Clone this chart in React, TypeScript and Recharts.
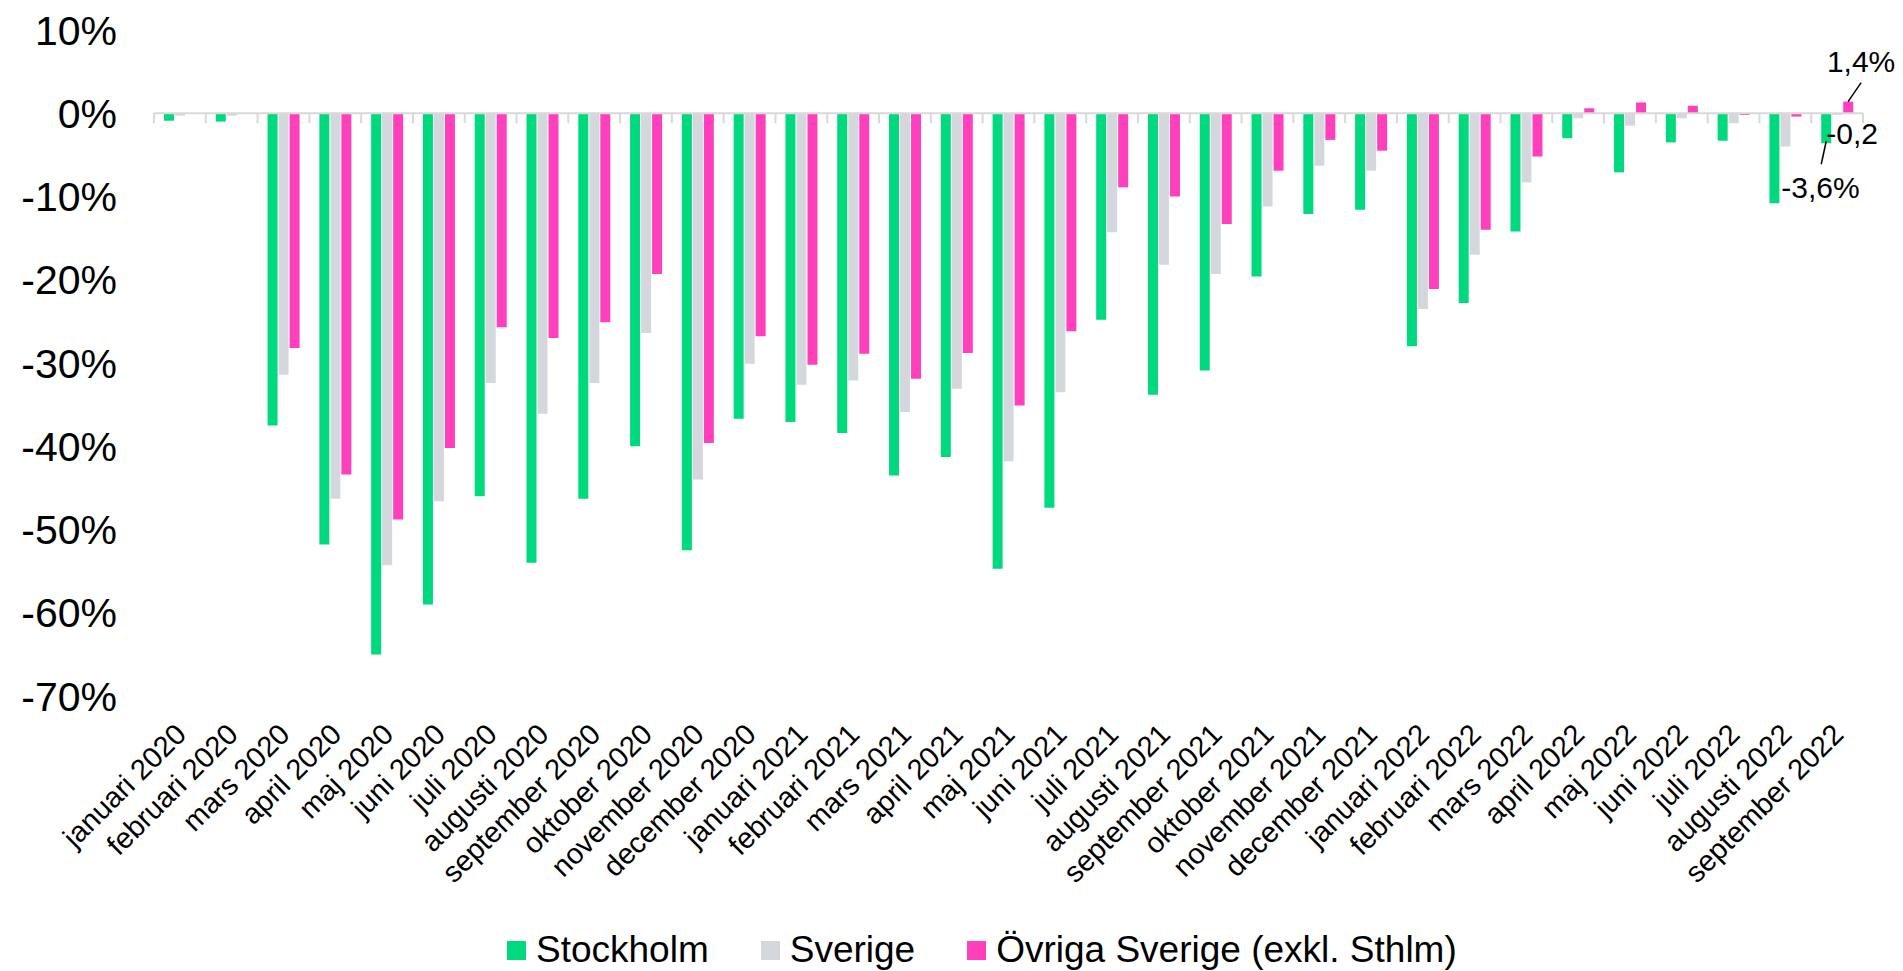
import React from "react";
import {
  BarChart,
  Bar,
  XAxis,
  YAxis,
  ReferenceLine,
  ReferenceDot,
  Legend,
} from "recharts";

const months = [
  "januari 2020", "februari 2020", "mars 2020", "april 2020", "maj 2020", "juni 2020",
  "juli 2020", "augusti 2020", "september 2020", "oktober 2020", "november 2020", "december 2020",
  "januari 2021", "februari 2021", "mars 2021", "april 2021", "maj 2021", "juni 2021",
  "juli 2021", "augusti 2021", "september 2021", "oktober 2021", "november 2021", "december 2021",
  "januari 2022", "februari 2022", "mars 2022", "april 2022", "maj 2022", "juni 2022",
  "juli 2022", "augusti 2022", "september 2022",
];

const stockholm = [
  -0.9, -1.0, -37.5, -51.8, -65.0, -59.0, -46.0, -54.0, -46.3, -40.0, -52.5, -36.7,
  -37.1, -38.4, -43.5, -41.3, -54.7, -47.4, -24.8, -33.8, -30.9, -19.6, -12.1, -11.6,
  -28.0, -22.8, -14.2, -3.0, -7.1, -3.5, -3.3, -10.8, -3.6,
];

const sverige = [
  -0.3, -0.3, -31.4, -46.3, -54.3, -46.6, -32.4, -36.1, -32.4, -26.4, -44.0, -30.1,
  -32.6, -32.1, -35.9, -33.1, -41.8, -33.5, -14.3, -18.2, -19.3, -11.2, -6.3, -6.9,
  -23.5, -17.0, -8.3, -0.6, -1.5, -0.6, -1.2, -4.0, -0.2,
];

const ovriga = [
  0, 0, -28.2, -43.4, -48.8, -40.2, -25.7, -27.0, -25.1, -19.3, -39.6, -26.8,
  -30.2, -28.9, -31.9, -28.8, -35.1, -26.2, -8.9, -10.0, -13.3, -6.9, -3.2, -4.5,
  -21.1, -14.0, -5.2, 0.6, 1.3, 0.9, -0.2, -0.4, 1.4,
];

const seriesNames = ["Stockholm", "Sverige", "Övriga Sverige (exkl. Sthlm)"];

const yTicks = [10, 0, -10, -20, -30, -40, -50, -60, -70];

// labels shown on the last month only
const endLabels = ["-3,6%", "-0,2", "1,4%"];

const FONT = '"Liberation Sans", Arial, sans-serif';
const GREEN = "#00D97E";
const GRAY = "#D4D7DB";
const PINK = "#FF40BC";
const AXIS = "#D9D9D9";

const data = months.map((month, i) => ({
  month,
  stockholm: stockholm[i],
  sverige: sverige[i],
  ovriga: ovriga[i],
}));

const lastIndex = months.length - 1;

const getBox = (p: any) => {
  const v = p.viewBox && p.viewBox.width !== undefined ? p.viewBox : p;
  const x = Number(v.x);
  const y = Number(v.y);
  const w = Number(v.width);
  const h = Number(v.height);
  return { x, w, top: Math.min(y, y + h), bottom: Math.max(y, y + h) };
};

const StockholmLabel = (props: any) => {
  if (props.index !== lastIndex) return <g />;
  const b = getBox(props);
  return (
    <g>
      <line x1={b.x + b.w / 2} y1={b.bottom - 2} x2={b.x} y2={b.bottom + 21} stroke="#000" strokeWidth={1.5} />
      <text x={b.x - 40} y={b.bottom + 55} fontSize={30} fontFamily={FONT} fill="#000">
        {endLabels[0]}
      </text>
    </g>
  );
};

const SverigeLabel = (props: any) => {
  if (props.index !== lastIndex) return <g />;
  const b = getBox(props);
  return (
    <text x={b.x - 6} y={b.top + 31} fontSize={30} fontFamily={FONT} fill="#000">
      {endLabels[1]}
    </text>
  );
};

// placed at (last month, last value); the pink bar is the third in the group
const OvrigaLabel = (props: any) => {
  const { cx, cy } = props;
  if (cx === undefined || cy === undefined) return <g />;
  const barCenter = cx + 11;
  return (
    <g>
      <line x1={barCenter} y1={cy} x2={barCenter + 13} y2={cy - 19} stroke="#000" strokeWidth={1.5} />
      <text x={barCenter + 13} y={cy - 30} textAnchor="middle" fontSize={30} fontFamily={FONT} fill="#000">
        {endLabels[2]}
      </text>
    </g>
  );
};

// zero line with tick marks between the months
const ZeroAxis = (props: any) => {
  const { x1, x2, y1 } = props;
  const n = months.length;
  const step = (x2 - x1) / n;
  return (
    <g>
      <line x1={x1} x2={x2} y1={y1} y2={y1} stroke={AXIS} strokeWidth={2} />
      {Array.from({ length: n + 1 }, (_, i) => (
        <line key={i} x1={x1 + i * step} x2={x1 + i * step} y1={y1} y2={y1 + 10} stroke={AXIS} strokeWidth={2} />
      ))}
    </g>
  );
};

const MonthTick = (props: any) => {
  const { x, y, payload } = props;
  return (
    <g transform={`translate(${x + 8},${y + 40}) rotate(-45)`}>
      <text x={0} y={0} textAnchor="end" fontSize={29} fontFamily={FONT} fill="#000">
        {payload.value}
      </text>
    </g>
  );
};

const LegendContent = (props: any) => {
  const items = props.payload || [];
  return (
    <div style={{ display: "flex", alignItems: "center", fontFamily: FONT, fontSize: 37, color: "#000", lineHeight: "42px" }}>
      {items.map((item: any, i: number) => (
        <div key={i} style={{ display: "flex", alignItems: "center", marginRight: 52 }}>
          <span style={{ display: "inline-block", width: 19, height: 19, background: item.color, marginRight: 10 }} />
          <span>{item.value}</span>
        </div>
      ))}
    </div>
  );
};

export default function App() {
  return (
    <div style={{ position: "absolute", left: 0, top: 0, width: 1903, height: 971, background: "#fff" }}>
      <BarChart
        width={1903}
        height={971}
        data={data}
        margin={{ top: 30, right: 40, bottom: 0, left: 0 }}
        barSize={10}
        barGap={1}
      >
        <XAxis
          dataKey="month"
          height={275}
          interval={0}
          axisLine={false}
          tickLine={false}
          tickSize={0}
          tickMargin={0}
          tick={<MonthTick />}
        />
        <YAxis
          width={154}
          domain={[-70, 10]}
          ticks={yTicks}
          interval={0}
          axisLine={false}
          tickLine={false}
          tickSize={0}
          tickMargin={37}
          tickFormatter={(v) => `${v}%`}
          tick={{ fontSize: 41, fontFamily: FONT, fill: "#000" }}
        />
        <Legend
          layout="horizontal"
          verticalAlign="middle"
          align="center"
          content={<LegendContent />}
          wrapperStyle={{ top: 929, left: 507, width: 1300 }}
        />
        <Bar dataKey="stockholm" name={seriesNames[0]} fill={GREEN} isAnimationActive={false} label={StockholmLabel} />
        <Bar dataKey="sverige" name={seriesNames[1]} fill={GRAY} isAnimationActive={false} label={SverigeLabel} />
        <Bar dataKey="ovriga" name={seriesNames[2]} fill={PINK} isAnimationActive={false} />
        <ReferenceLine y={0} shape={<ZeroAxis />} />
        <ReferenceDot
          x={months[lastIndex]}
          y={ovriga[lastIndex]}
          ifOverflow="visible"
          shape={OvrigaLabel}
        />
      </BarChart>
    </div>
  );
}
